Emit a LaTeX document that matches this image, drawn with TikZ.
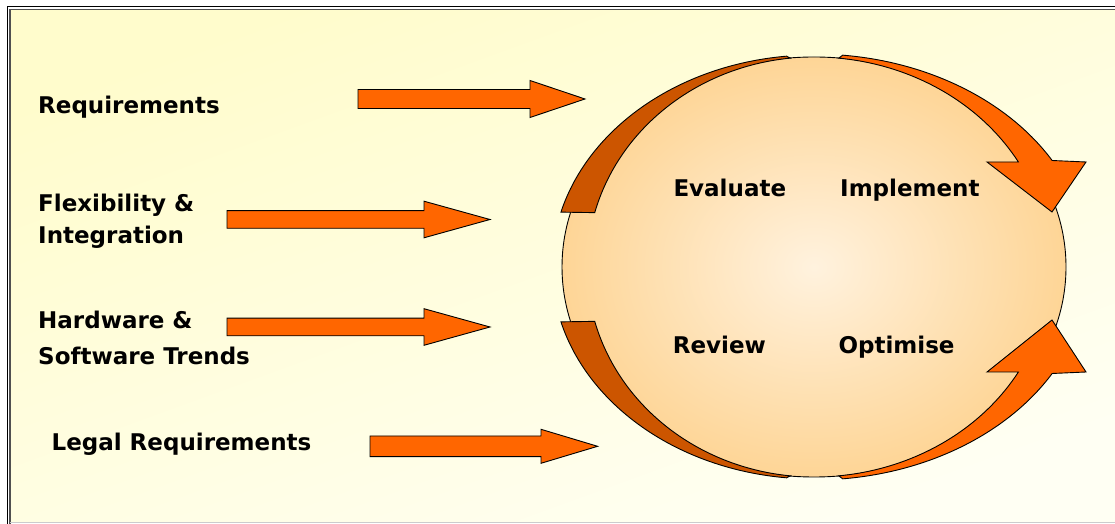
\documentclass[tikz,border=0pt]{standalone}
\usepackage{fontspec}
\setmainfont{DejaVu Sans}
\usetikzlibrary{calc}

\definecolor{arrowOrange}{RGB}{255,102,0}
\definecolor{arrowDark}{RGB}{204,85,0}
\definecolor{bgYellow}{RGB}{255,252,204}
\definecolor{bgCream}{RGB}{255,255,243}
\definecolor{discIn}{RGB}{255,242,222}
\definecolor{discOut}{RGB}{254,213,150}
\definecolor{frameGrey}{RGB}{80,80,80}

% straight block arrow: tail x, head base x, tip x, centre y, half shaft, half head
\newcommand\blockarrow[6]{%
  \draw[blockarr] ({#1},{#4-#5}) -- ({#2},{#4-#5}) -- ({#2},{#4-#6}) -- ({#3},{#4})
    -- ({#2},{#4+#6}) -- ({#2},{#4+#5}) -- ({#1},{#4+#5}) -- cycle;}

\begin{document}
\begin{tikzpicture}[x=1pt,y=1pt,
  blockarr/.style={fill=arrowOrange, draw=black, line width=0.9pt, line join=miter},
  darkband/.style={fill=arrowDark, draw=black, line width=0.9pt, line join=miter},
  disc/.style={draw=black, line width=0.9pt, inner color=discIn, outer color=discOut},
  lbl/.style={font=\bfseries\fontsize{23}{31.6}\selectfont, inner sep=0pt, anchor=base west}]

\useasboundingbox (0,0) rectangle (1115,524);
\fill[white] (0,0) rectangle (1115,524);

% slide background and its frame
\shade[top color=bgYellow, bottom color=bgCream, shading angle=20]
  (10.5,1.5) rectangle (1115,513.5);
\draw[black, line width=1pt] (7,0) -- (7,517.7) -- (1115,517.7);
\draw[frameGrey, line width=1.5pt] (10,0) -- (10,514.3) -- (1115,514.3);
\draw[gray!40, line width=1pt] (10,1.5) -- (1115,1.5);

% the cycle disc
\coordinate (C) at (814,257);
\draw[disc] (C) ellipse[x radius=252pt, y radius=210pt];

% curved bands round the disc
\draw[darkband] ($(C)+(96:262pt and 212pt)$)
  arc[start angle=96, end angle=165, x radius=262pt, y radius=212pt]
  -- ($(C)+(165:227pt and 210pt)$)
  arc[start angle=165, end angle=96, x radius=227pt, y radius=210pt] -- cycle;
\draw[darkband] ($(C)+(264:262pt and 212pt)$)
  arc[start angle=264, end angle=195, x radius=262pt, y radius=212pt]
  -- ($(C)+(195:227pt and 210pt)$)
  arc[start angle=195, end angle=264, x radius=227pt, y radius=210pt] -- cycle;
\draw[blockarr] ($(C)+(84:275pt and 213pt)$)
  arc[start angle=84, end angle=30, x radius=275pt, y radius=213pt]
  -- (1086,362) -- (1052,312) -- (987,362)
  -- ($(C)+(30:236pt and 210pt)$)
  arc[start angle=30, end angle=84, x radius=236pt, y radius=210pt] -- cycle;
\draw[blockarr] ($(C)+(-84:275pt and 213pt)$)
  arc[start angle=-84, end angle=-30, x radius=275pt, y radius=213pt]
  -- (1086,152) -- (1052,204) -- (987,152)
  -- ($(C)+(-30:236pt and 210pt)$)
  arc[start angle=-30, end angle=-84, x radius=236pt, y radius=210pt] -- cycle;

% input arrows
\blockarrow{358}{530}{585}{425}{9.5}{18.5}
\blockarrow{227}{424}{490}{304.5}{8.8}{18.3}
\blockarrow{227}{424}{490}{197}{8.8}{18.3}
\blockarrow{370}{541}{597.6}{77.7}{10.3}{17}

% labels (two-line labels are placed by their last baseline)
\node[lbl] (req) at (38,410.7) {Requirements};
\node[lbl, align=left] (flex) at (38,280.7) {Flexibility \&\\Integration};
\node[lbl, align=left, font=\bfseries\fontsize{23}{36}\selectfont] (hw) at (38,159)
  {Hardware \&\\Software Trends};
\node[lbl] (legal) at (51.4,73.3) {Legal Requirements};
\node[lbl] (eval) at (673.3,327.3) {Evaluate};
\node[lbl] (impl) at (840,327.3) {Implement};
\node[lbl] (rev) at (672.7,170.7) {Review};
\node[lbl] (opt) at (838.3,170.7) {Optimise};
\end{tikzpicture}
\end{document}
